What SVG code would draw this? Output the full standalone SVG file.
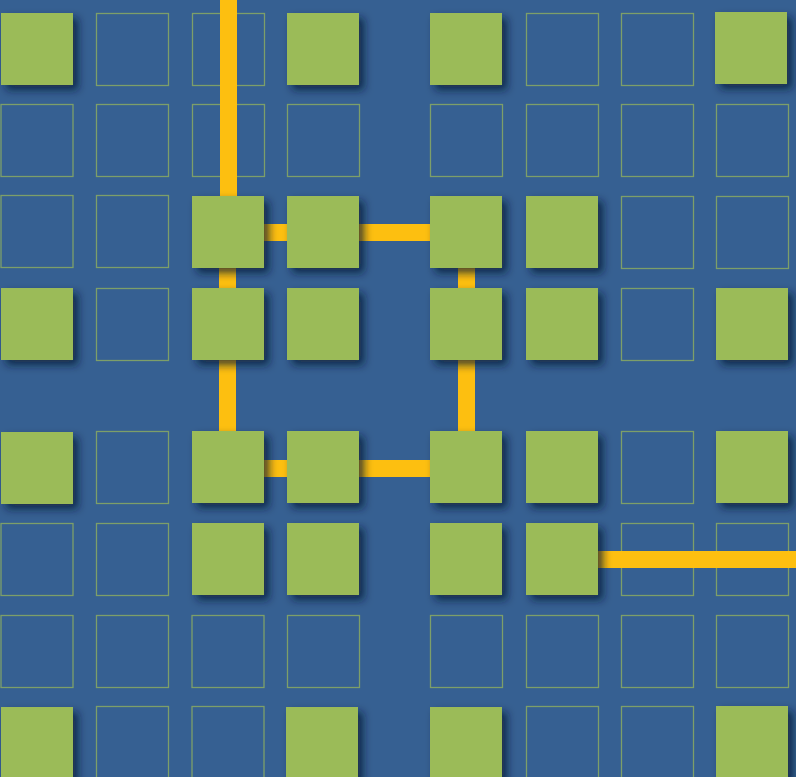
<svg xmlns="http://www.w3.org/2000/svg" width="796" height="777" viewBox="0 0 796 777">
<defs>
<filter id="sh" x="-20%" y="-20%" width="150%" height="150%">
<feGaussianBlur in="SourceAlpha" stdDeviation="4"/>
<feOffset dx="5" dy="5" result="b"/>
<feFlood flood-color="#0b1a33" flood-opacity="0.75"/>
<feComposite in2="b" operator="in"/>
<feMerge><feMergeNode/><feMergeNode in="SourceGraphic"/></feMerge>
</filter>
</defs>
<style>
.f{fill:#9BBB59;filter:url(#sh)}
.o{fill:none;stroke:#9BBB59;stroke-opacity:0.7;stroke-width:1.3}
.c{fill:none;stroke:#FDBF10;stroke-width:17}
</style>
<rect width="796" height="777" fill="#366092"/>
<g id="empty-nodes">
<g id="n0-1"><rect class="o" x="96.5" y="13.5" width="72" height="72"/></g>
<g id="n0-2"><rect class="o" x="192.5" y="13.5" width="72" height="72"/></g>
<g id="n0-5"><rect class="o" x="526.5" y="13.5" width="72" height="72"/></g>
<g id="n0-6"><rect class="o" x="621.5" y="13.5" width="72" height="72"/></g>
<g id="n1-0"><rect class="o" x="1" y="104.5" width="72" height="72"/></g>
<g id="n1-1"><rect class="o" x="96.5" y="104.5" width="72" height="72"/></g>
<g id="n1-2"><rect class="o" x="192.5" y="104.5" width="72" height="72"/></g>
<g id="n1-3"><rect class="o" x="287.5" y="104.5" width="72" height="72"/></g>
<g id="n1-4"><rect class="o" x="430.5" y="104.5" width="72" height="72"/></g>
<g id="n1-5"><rect class="o" x="526.5" y="104.5" width="72" height="72"/></g>
<g id="n1-6"><rect class="o" x="621.5" y="104.5" width="72" height="72"/></g>
<g id="n1-7"><rect class="o" x="716.5" y="104.5" width="72" height="72"/></g>
<g id="n2-0"><rect class="o" x="1" y="195.5" width="72" height="72"/></g>
<g id="n2-1"><rect class="o" x="96.5" y="195.5" width="72" height="72"/></g>
<g id="n2-6"><rect class="o" x="621.5" y="196.5" width="72" height="72"/></g>
<g id="n2-7"><rect class="o" x="716.5" y="196.5" width="72" height="72"/></g>
<g id="n3-1"><rect class="o" x="96.5" y="288.5" width="72" height="72"/></g>
<g id="n3-6"><rect class="o" x="621.5" y="288.5" width="72" height="72"/></g>
<g id="n4-1"><rect class="o" x="96.5" y="431.5" width="72" height="72"/></g>
<g id="n4-6"><rect class="o" x="621.5" y="431.5" width="72" height="72"/></g>
<g id="n5-0"><rect class="o" x="1" y="523.5" width="72" height="72"/></g>
<g id="n5-1"><rect class="o" x="96.5" y="523.5" width="72" height="72"/></g>
<g id="n5-6"><rect class="o" x="621.5" y="523.5" width="72" height="72"/></g>
<g id="n5-7"><rect class="o" x="716.5" y="523.5" width="72" height="72"/></g>
<g id="n6-0"><rect class="o" x="1" y="615.5" width="72" height="72"/></g>
<g id="n6-1"><rect class="o" x="96.5" y="615.5" width="72" height="72"/></g>
<g id="n6-2"><rect class="o" x="192" y="615.5" width="72" height="72"/></g>
<g id="n6-3"><rect class="o" x="287.5" y="615.5" width="72" height="72"/></g>
<g id="n6-4"><rect class="o" x="430.5" y="615.5" width="72" height="72"/></g>
<g id="n6-5"><rect class="o" x="526.5" y="615.5" width="72" height="72"/></g>
<g id="n6-6"><rect class="o" x="621.5" y="615.5" width="72" height="72"/></g>
<g id="n6-7"><rect class="o" x="716.5" y="615.5" width="72" height="72"/></g>
<g id="n7-1"><rect class="o" x="96.5" y="706.5" width="72" height="72"/></g>
<g id="n7-2"><rect class="o" x="192" y="706.5" width="72" height="72"/></g>
<g id="n7-5"><rect class="o" x="526.5" y="706.5" width="72" height="72"/></g>
<g id="n7-6"><rect class="o" x="621.5" y="706.5" width="72" height="72"/></g>
</g>
<g id="connectors">
<path class="c" d="M228.5,0 V240"/>
<path class="c" d="M227.5,232.5 H466.5 V468.5 H227.5 Z"/>
<path class="c" d="M590,559.5 H796"/>
</g>
<g id="filled-nodes">
<g id="n0-0"><rect class="f" x="1" y="13" width="72" height="72"/></g>
<g id="n0-3"><rect class="f" x="287" y="13" width="72" height="72"/></g>
<g id="n0-4"><rect class="f" x="430" y="13" width="72" height="72"/></g>
<g id="n0-7"><rect class="f" x="715" y="12" width="72" height="72"/></g>
<g id="n2-2"><rect class="f" x="192" y="196" width="72" height="72"/></g>
<g id="n2-3"><rect class="f" x="287" y="196" width="72" height="72"/></g>
<g id="n2-4"><rect class="f" x="430" y="196" width="72" height="72"/></g>
<g id="n2-5"><rect class="f" x="526" y="196" width="72" height="72"/></g>
<g id="n3-0"><rect class="f" x="1" y="288" width="72" height="72"/></g>
<g id="n3-2"><rect class="f" x="192" y="288" width="72" height="72"/></g>
<g id="n3-3"><rect class="f" x="287" y="288" width="72" height="72"/></g>
<g id="n3-4"><rect class="f" x="430" y="288" width="72" height="72"/></g>
<g id="n3-5"><rect class="f" x="526" y="288" width="72" height="72"/></g>
<g id="n3-7"><rect class="f" x="716" y="288" width="72" height="72"/></g>
<g id="n4-0"><rect class="f" x="1" y="432" width="72" height="72"/></g>
<g id="n4-2"><rect class="f" x="192" y="431" width="72" height="72"/></g>
<g id="n4-3"><rect class="f" x="287" y="431" width="72" height="72"/></g>
<g id="n4-4"><rect class="f" x="430" y="431" width="72" height="72"/></g>
<g id="n4-5"><rect class="f" x="526" y="431" width="72" height="72"/></g>
<g id="n4-7"><rect class="f" x="716" y="431" width="72" height="72"/></g>
<g id="n5-2"><rect class="f" x="192" y="523" width="72" height="72"/></g>
<g id="n5-3"><rect class="f" x="287" y="523" width="72" height="72"/></g>
<g id="n5-4"><rect class="f" x="430" y="523" width="72" height="72"/></g>
<g id="n5-5"><rect class="f" x="526" y="523" width="72" height="72"/></g>
<g id="n7-0"><rect class="f" x="1" y="707" width="72" height="72"/></g>
<g id="n7-3"><rect class="f" x="286" y="707" width="72" height="72"/></g>
<g id="n7-4"><rect class="f" x="430" y="707" width="72" height="72"/></g>
<g id="n7-7"><rect class="f" x="716" y="706" width="72" height="72"/></g>
</g>
</svg>
